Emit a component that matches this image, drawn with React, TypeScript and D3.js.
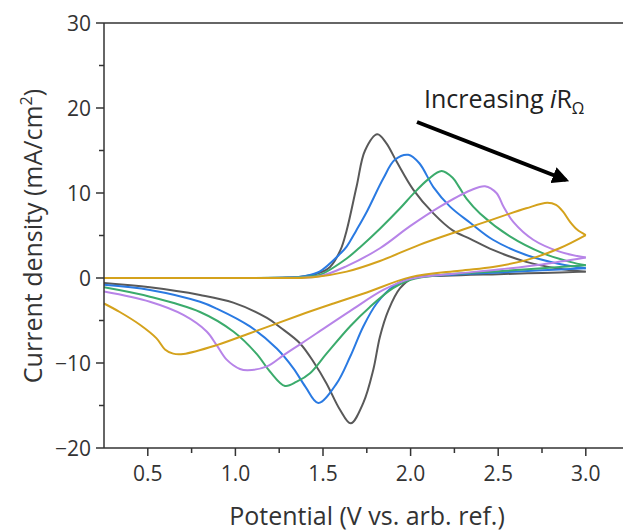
// CV curves at increasing ohmic drop
import React from 'react';
import * as d3 from 'd3';

// data: [potential V, current density mA/cm2], each branch listed by rising potential
const blackForward: [number, number][] = [
  [0.25, 0], [0.7, 0], [1.0, 0], [1.3, 0.05], [1.4, 0.2], [1.48, 0.6], [1.54, 1.3], [1.6, 3.3], [1.635, 5.6],
  [1.692, 10.8], [1.74, 15.0], [1.81, 16.9], [1.86, 15.9], [1.92, 13.7], [2.015, 10.4], [2.13, 7.6],
  [2.24, 5.6], [2.34, 4.6], [2.47, 3.3], [2.66, 1.9], [2.85, 1.1], [3.0, 0.75],
];
const blackReverse: [number, number][] = [
  [0.25, -0.6], [0.512, -1.1], [0.798, -2.0], [0.988, -2.9], [1.18, -4.7], [1.255, -5.8], [1.369, -7.7],
  [1.45, -10.0], [1.52, -12.4], [1.597, -15.5], [1.658, -17.1], [1.73, -14.7], [1.787, -10.8],
  [1.825, -6.9], [1.873, -3.8], [1.94, -1.2], [2.015, 0], [2.2, 0.25], [2.5, 0.45], [2.75, 0.6], [3.0, 0.75],
];
const blueForward: [number, number][] = [
  [0.25, 0], [0.7, 0], [1.0, 0], [1.3, 0.05], [1.4, 0.25], [1.48, 0.75], [1.6, 2.9], [1.635, 3.7], [1.69, 5.6],
  [1.75, 7.8], [1.844, 11.7], [1.91, 13.9], [1.987, 14.5], [2.05, 13.5], [2.13, 10.7], [2.225, 8.4],
  [2.34, 6.5], [2.47, 4.5], [2.66, 2.7], [2.85, 1.65], [3.0, 1.15],
];
const blueReverse: [number, number][] = [
  [0.25, -0.8], [0.512, -1.4], [0.798, -2.8], [0.893, -3.6], [1.083, -5.7], [1.236, -8.3], [1.33, -10.6],
  [1.40, -12.8], [1.473, -14.7], [1.578, -12.4], [1.654, -9.3], [1.73, -5.7], [1.806, -3.0], [1.9, -1.0],
  [2.0, 0], [2.2, 0.35], [2.5, 0.65], [2.75, 0.9], [3.0, 1.15],
];
const greenForward: [number, number][] = [
  [0.25, 0], [0.7, 0], [1.0, 0], [1.3, 0.05], [1.4, 0.15], [1.48, 0.35], [1.635, 2.3], [1.71, 3.6], [1.825, 5.8],
  [1.94, 8.2], [2.015, 9.9], [2.1, 11.6], [2.177, 12.6], [2.24, 11.8], [2.28, 10.6], [2.32, 9.3],
  [2.396, 7.6], [2.567, 4.9], [2.757, 2.9], [2.91, 1.9], [3.0, 1.5],
];
const greenReverse: [number, number][] = [
  [0.25, -1.1], [0.512, -2.2], [0.798, -4.0], [0.988, -6.3], [1.12, -8.9], [1.197, -11.0], [1.283, -12.7],
  [1.35, -12.2], [1.426, -11.2], [1.52, -8.9], [1.654, -5.7], [1.768, -3.4], [1.9, -1.2], [2.0, -0.2],
  [2.2, 0.4], [2.5, 0.8], [2.75, 1.15], [3.0, 1.5],
];
const purpleForward: [number, number][] = [
  [0.25, 0], [0.7, 0], [1.0, 0], [1.3, 0.03], [1.48, 0.2], [1.635, 1.4], [1.825, 3.5], [1.997, 6.1], [2.168, 8.4],
  [2.34, 10.3], [2.425, 10.8], [2.49, 10.0], [2.53, 8.4], [2.586, 6.6], [2.7, 4.5], [2.85, 3.1], [3.0, 2.4],
];
const purpleReverse: [number, number][] = [
  [0.25, -1.6], [0.512, -2.8], [0.703, -4.35], [0.836, -6.3], [0.893, -7.9], [0.95, -9.6], [1.026, -10.7],
  [1.07, -10.85], [1.18, -10.4], [1.273, -9.1], [1.369, -7.8], [1.464, -6.5], [1.654, -3.9], [1.844, -1.4],
  [2.0, -0.1], [2.25, 0.5], [2.5, 1.0], [2.75, 1.6], [3.0, 2.4],
];
const goldForward: [number, number][] = [
  [0.25, 0], [0.7, 0], [1.0, 0], [1.2, 0.0], [1.445, 0.1], [1.635, 0.75], [1.825, 2.0], [2.05, 3.9],
  [2.3, 5.7], [2.47, 6.9], [2.66, 8.2], [2.78, 8.85], [2.83, 8.6], [2.87, 7.8], [2.91, 6.6], [2.95, 5.7],
  [3.0, 5.05],
];
const goldReverse: [number, number][] = [
  [0.25, -3.0], [0.34, -4.0], [0.455, -5.5], [0.55, -7.1], [0.598, -8.4], [0.645, -8.9], [0.703, -8.94],
  [0.893, -7.9], [1.083, -6.5], [1.369, -4.35], [1.56, -3.0], [1.75, -1.7], [2.0, 0.1], [2.28, 0.86],
  [2.47, 1.3], [2.66, 2.1], [2.85, 3.5], [3.0, 5.05],
];

const seriesColors = ['#595959', '#2a7ae2', '#3bab6c', '#b784e8', '#d4a21c'];
const seriesData = [
  [blackForward, blackReverse],
  [blueForward, blueReverse],
  [greenForward, greenReverse],
  [purpleForward, purpleReverse],
  [goldForward, goldReverse],
];

const xTicks = [0.5, 1.0, 1.5, 2.0, 2.5, 3.0];
const xMinor = [0.75, 1.25, 1.75, 2.25, 2.75];
const yTicks = [30, 20, 10, 0, -10, -20];
const yMinor = [25, 15, 5, -5, -15];

const width = 623;
const height = 531;
const font = '"Open Sans", "Noto Sans", sans-serif';
const axisColor = '#333333';

export default function App() {
  const x = d3.scaleLinear().domain([0.25, 3.25]).range([104, 629.6]);
  const y = d3.scaleLinear().domain([-20, 30]).range([448, 23]);

  const line = d3.line<[number, number]>()
    .x((d) => x(d[0]))
    .y((d) => y(d[1]))
    .curve(d3.curveCatmullRom.alpha(0.5));

  const fmtY = (v: number) => (v < 0 ? '\u2212' + Math.abs(v) : String(v));

  return (
    <svg width={width} height={height} style={{position: 'absolute', left: 0, top: 0}}>
      <defs>
        <marker id="arrowHead" viewBox="0 0 10 10" refX="8" refY="5" markerWidth="4.2" markerHeight="4.2"
          orient="auto" markerUnits="strokeWidth">
          <path d="M0,0 L10,5 L0,10 z" fill="#000" />
        </marker>
      </defs>

      {/* curves */}
      {seriesData.map((branches, i) => (
        <g key={i}>
          {branches.map((pts, j) => (
            <path key={j} d={line(pts) || ''} fill="none" stroke={seriesColors[i]} strokeWidth={2} />
          ))}
        </g>
      ))}

      {/* frame */}
      <line x1={x(0.25)} x2={x(3.25)} y1={y(30)} y2={y(30)} stroke={axisColor} strokeWidth={1.5} />
      <line x1={x(0.25)} x2={x(3.25)} y1={y(-20)} y2={y(-20)} stroke={axisColor} strokeWidth={1.5} />
      <line x1={x(0.25)} x2={x(0.25)} y1={y(30)} y2={y(-20)} stroke={axisColor} strokeWidth={1.5} />

      {/* x axis ticks */}
      {xTicks.map((t) => (
        <g key={'xt' + t}>
          <line x1={x(t)} x2={x(t)} y1={y(-20)} y2={y(-20) + 8} stroke={axisColor} strokeWidth={1.5} />
          <text x={x(t)} y={481} textAnchor="middle" fontFamily={font} fontSize={21} fill={axisColor}>
            {t.toFixed(1)}
          </text>
        </g>
      ))}
      {xMinor.map((t) => (
        <line key={'xm' + t} x1={x(t)} x2={x(t)} y1={y(-20)} y2={y(-20) + 5} stroke={axisColor} strokeWidth={1.5} />
      ))}

      {/* y axis ticks */}
      {yTicks.map((t) => (
        <g key={'yt' + t}>
          <line x1={x(0.25) - 8} x2={x(0.25)} y1={y(t)} y2={y(t)} stroke={axisColor} strokeWidth={1.5} />
          <text x={91} y={y(t) + 7.5} textAnchor="end" fontFamily={font} fontSize={21} fill={axisColor}>
            {fmtY(t)}
          </text>
        </g>
      ))}
      {yMinor.map((t) => (
        <line key={'ym' + t} x1={x(0.25) - 5} x2={x(0.25)} y1={y(t)} y2={y(t)} stroke={axisColor} strokeWidth={1.5} />
      ))}

      {/* axis titles */}
      <text x={367} y={525} textAnchor="middle" fontFamily={font} fontSize={25} fill={axisColor}>
        Potential (V vs. arb. ref.)
      </text>
      <text transform="translate(42,236) rotate(-90)" textAnchor="middle" fontFamily={font} fontSize={25} fill={axisColor}>
        Current density (mA/cm<tspan dy={-10} fontSize={16}>2</tspan><tspan dy={10}>)</tspan>
      </text>

      {/* annotation */}
      <text x={424} y={108} fontFamily={font} fontSize={25} fill="#222">
        Increasing <tspan fontStyle="italic">i</tspan>R<tspan dy={6} fontSize={16}>Ω</tspan>
      </text>
      <line x1={417} y1={122} x2={566} y2={180} stroke="#000" strokeWidth={4} markerEnd="url(#arrowHead)" />
    </svg>
  );
}
